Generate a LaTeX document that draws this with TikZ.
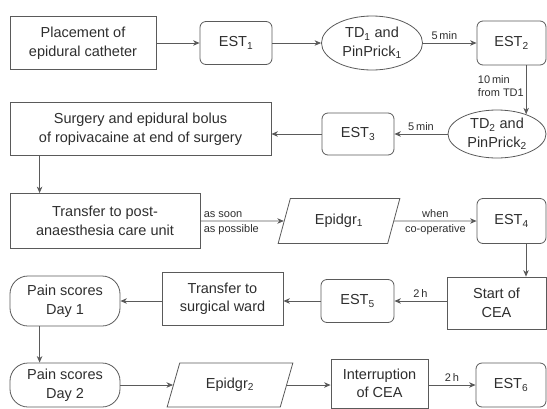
\documentclass[tikz,border=0pt]{standalone}
\usepackage{fontspec}
\setmainfont{Liberation Sans}
\usetikzlibrary{shapes.geometric,arrows.meta,calc}
\definecolor{ln}{HTML}{5A5A5A}
\definecolor{tx}{HTML}{2E2E2E}
\begin{document}
\begin{tikzpicture}[x=1pt,y=-1pt,
  base/.style={draw=ln,line width=0.8pt,text=tx,inner sep=0pt,align=center,font=\fontsize{14.5}{18.5}\selectfont},
  box/.style={base,rectangle},
  est/.style={base,rectangle,rounded corners=6pt},
  oval/.style={base,ellipse},
  para/.style={base,trapezium,trapezium left angle=66,trapezium right angle=114,trapezium stretches=true},
  pill/.style={base,rectangle,rounded corners=18pt},
  arr/.style={draw=ln,line width=0.8pt,-{Stealth[length=6.5pt,width=5.5pt,inset=2pt]}},
  lab/.style={text=tx,font=\fontsize{11}{13}\selectfont,inner sep=3pt}
]
\useasboundingbox (0,0) rectangle (547,408);
% row 1
\node[box,minimum width=146pt,minimum height=53pt] (place) at (83,43) {Placement of\\epidural catheter};
\node[est,minimum width=72pt,minimum height=43pt] (est1) at (236,43) {EST\textsubscript{1}};
\node[oval,minimum width=101pt,minimum height=54pt] (td1) at (372,43) {TD\textsubscript{1} and\\PinPrick\textsubscript{1}};
\node[est,minimum width=69pt,minimum height=44pt] (est2) at (511.5,43) {EST\textsubscript{2}};
% row 2
\node[oval,minimum width=98pt,minimum height=48pt] (td2) at (497,134) {TD\textsubscript{2} and\\PinPrick\textsubscript{2}};
\node[est,minimum width=72pt,minimum height=42pt] (est3) at (358,134) {EST\textsubscript{3}};
\node[box,minimum width=261pt,minimum height=53pt] (surg) at (140.5,129) {Surgery and epidural bolus\\of ropivacaine at end of surgery};
% row 3
\node[box,minimum width=190pt,minimum height=55pt] (pacu) at (105,221) {Transfer to post-\\anaesthesia care unit};
\node[para,minimum width=122pt,minimum height=45pt] (epi1) at (339,221) {Epidgr\textsubscript{1}};
\node[est,minimum width=69pt,minimum height=45pt] (est4) at (511.5,221) {EST\textsubscript{4}};
% row 4
\node[pill,minimum width=110pt,minimum height=50pt] (day1) at (65,301) {Pain scores\\Day 1};
\node[box,minimum width=121pt,minimum height=53pt] (ward) at (222.5,299) {Transfer to\\surgical ward};
\node[est,minimum width=73pt,minimum height=43pt] (est5) at (357.5,301) {EST\textsubscript{5}};
\node[box,minimum width=99pt,minimum height=52pt] (start) at (496.5,303) {Start of\\CEA};
% row 5
\node[pill,minimum width=110pt,minimum height=44pt] (day2) at (65,385) {Pain scores\\Day 2};
\node[para,minimum width=126pt,minimum height=44pt] (epi2) at (230,385) {Epidgr\textsubscript{2}};
\node[box,minimum width=97pt,minimum height=49pt] (intr) at (379.5,383.5) {Interruption\\of CEA};
\node[est,minimum width=70pt,minimum height=44pt] (est6) at (511,385) {EST\textsubscript{6}};
% connectors
\draw[arr] (place.east) -- (est1.west);
\draw[arr] (est1.east) -- (td1.west);
\draw[arr] (td1.east) -- node[lab,above,pos=0.4]{5\,min} (est2.west);
\draw[arr] (est2.south -| td2.34) -- node[lab,left,align=left,pos=0.42,inner sep=2pt]{10\,min\\from TD1} (td2.34);
\draw[arr] (td2.west) -- node[lab,above]{5\,min} (est3.east);
\draw[arr] (est3.west) -- (est3.west -| surg.east);
\draw[arr] ([xshift=30pt]surg.south west) -- ([xshift=30pt]surg.south west |- pacu.north);
\draw[arr] (pacu.east) -- node[lab,above right,pos=0]{as soon} node[lab,below right,pos=0]{as possible} (epi1.west);
\draw[arr] (epi1.east) -- node[lab,above]{when} node[lab,below]{co-operative} (est4.west);
\draw[arr] ([xshift=14.5pt]est4.south) -- ([xshift=14.5pt]est4.south |- start.north);
\draw[arr] (start.west |- est5) -- node[lab,above]{2\,h} (est5.east);
\draw[arr] (est5.west) -- (est5.west -| ward.east);
\draw[arr] (ward.west |- day1) -- (day1.east);
\draw[arr] ([xshift=30pt]day1.south west) -- ([xshift=30pt]day1.south west |- day2.north);
\draw[arr] (day2.east) -- (epi2.west);
\draw[arr] (epi2.east) -- (epi2.east -| intr.west);
\draw[arr] (intr.east |- est6) -- node[lab,above]{2\,h} (est6.west);
\end{tikzpicture}
\end{document}
